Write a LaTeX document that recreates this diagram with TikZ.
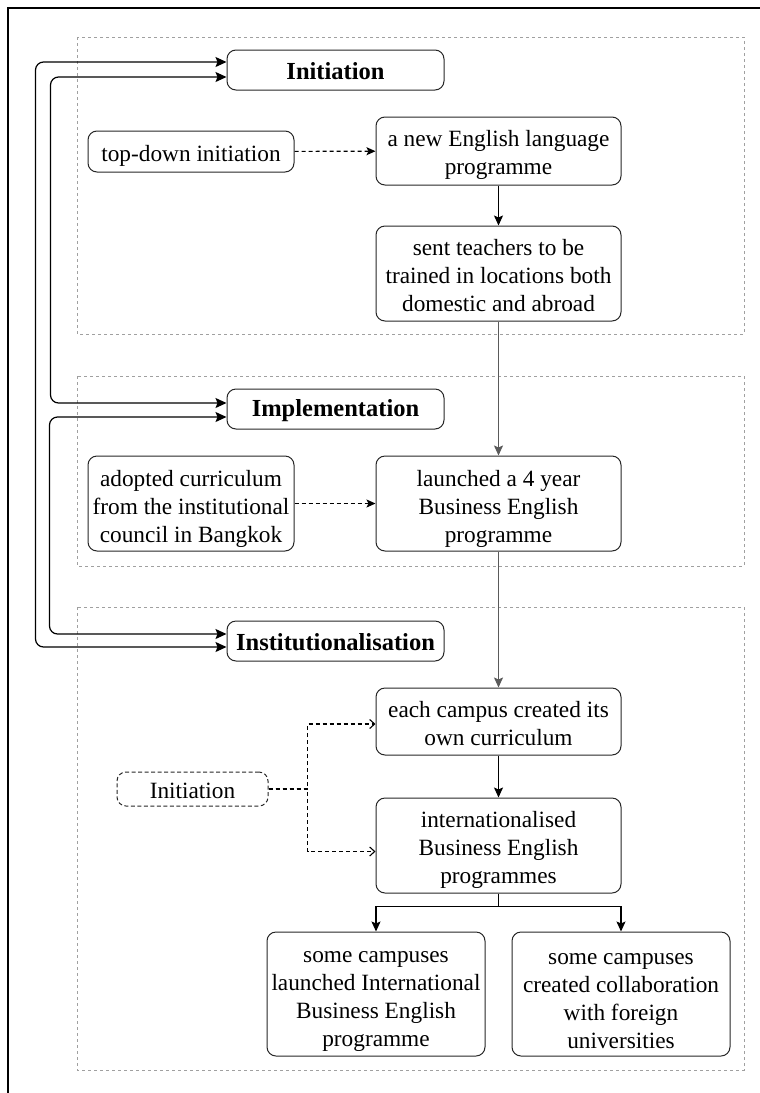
\documentclass[tikz,border=0pt]{standalone}
\usepackage{fontspec}
\setmainfont{Liberation Serif}
\usetikzlibrary{arrows.meta}
\definecolor{groupgray}{HTML}{A0A0A0}
\definecolor{flowgray}{HTML}{5A5A5A}
% invisible strut that makes the first text line taller, lowering the text block
\newcommand\padtop[1]{\rule{0pt}{#1}}
\begin{document}
\begin{tikzpicture}[x=1pt,y=-1pt,
  font=\fontsize{23.3}{28}\selectfont,
  drop/.style={execute at begin node={\padtop{#1}}},
  box/.style={draw=black!85, line width=1pt, rounded corners=9pt, align=center, inner sep=0pt},
  phase/.style={box, font=\fontsize{24.5}{28}\selectfont\bfseries, minimum width=217pt, minimum height=40pt, drop=20pt},
  dbox/.style={box, dashed, dash pattern=on 4pt off 2.5pt},
  group/.style={draw=groupgray, line width=1pt, dash pattern=on 3pt off 3pt},
  arr/.style={line width=1.2pt, -{Stealth[length=10pt,width=9pt,inset=2pt]}},
  garr/.style={arr, draw=flowgray, line width=1.5pt},
  darr/.style={line width=1.1pt, dash pattern=on 4pt off 3pt, -{Stealth[length=9pt,width=8pt,inset=2pt]}},
  oarr/.style={line width=1.1pt, dash pattern=on 4pt off 3pt, -{Straight Barb[length=5pt,width=9pt]}},
  loop/.style={line width=1.2pt, rounded corners=8pt, {Stealth[length=11pt,width=10pt,inset=2pt]}-{Stealth[length=11pt,width=10pt,inset=2pt]}}
]
\useasboundingbox (0,0) rectangle (760,1093);

% frame
\draw[line width=1.5pt] (8,1093) -- (8,8) -- (760,8);

% phase groups
\draw[group] (77,37) rectangle (744,334);
\draw[group] (77,376) rectangle (744,566);
\draw[group] (77,607) rectangle (744,1070);

% Initiation
\node[phase] (init) at (335.5,70) {Initiation};
\node[box, minimum width=206pt, minimum height=41pt, drop=24pt] (topdown) at (191,151.5) {top-down initiation};
\node[box, minimum width=245pt, minimum height=68pt] (newprog) at (498.5,151) {\padtop{25pt}a new English language\\programme};
\node[box, minimum width=245pt, minimum height=95pt] (teachers) at (498.5,273.5) {\padtop{21pt}sent teachers to be\\trained in locations both\\domestic and abroad};

% Implementation
\node[phase] (impl) at (335.5,409) {Implementation};
\node[box, minimum width=206pt, minimum height=95pt] (adopted) at (191,503.5) {\padtop{27pt}adopted curriculum\\from the institutional\\council in Bangkok};
\node[box, minimum width=245pt, minimum height=95pt] (launched) at (498.5,503.5) {\padtop{27pt}launched a 4 year\\Business English\\programme};

% Institutionalisation
\node[phase] (inst) at (335.5,641) {Institutionalisation};
\node[box, minimum width=245pt, minimum height=67pt] (each) at (498.5,721.5) {\padtop{20pt}each campus created its\\own curriculum};
\node[dbox, minimum width=151pt, minimum height=34pt, drop=20pt] (ini2) at (192.5,789) {Initiation};
\node[box, minimum width=245pt, minimum height=95pt] (intl) at (498.5,845.5) {\padtop{26pt}internationalised\\Business English\\programmes};
\node[box, minimum width=218pt, minimum height=124pt] (intlbe) at (376,994) {\padtop{26pt}some campuses\\launched International\\Business English\\programme};
\node[box, minimum width=218pt, minimum height=124pt] (collab) at (621,994) {\padtop{26pt}some campuses\\created collaboration\\with foreign\\universities};

% main flow
\draw[darr] (topdown) -- (newprog);
\draw[arr] (newprog) -- (teachers);
\draw[garr] (teachers) -- (launched);
\draw[darr] (adopted) -- (launched);
\draw[garr] (launched) -- (each);
\draw[arr, line width=1.5pt] (each) -- (intl);
\draw[arr] (intl.south) -- ++(0,13) -| (intlbe.north);
\draw[arr] (intl.south) -- ++(0,13) -| (collab.north);
\draw[oarr] (ini2.east) -- ++(39,0) |- ([yshift=-2.5pt]each.west);
\draw[oarr] (ini2.east) -- ++(39,0) |- ([yshift=-6pt]intl.west);

% phase feedback loops
\draw[loop] ([yshift=-6pt]inst.west) -- ++(-191,0) |- ([yshift=8pt]init.west);
\draw[loop] ([yshift=6pt]impl.west) -- ++(-176,0) |- ([yshift=-7pt]init.west);
\draw[loop] ([yshift=7pt]inst.west) -- ++(-177,0) |- ([yshift=-8pt]impl.west);
\end{tikzpicture}
\end{document}
